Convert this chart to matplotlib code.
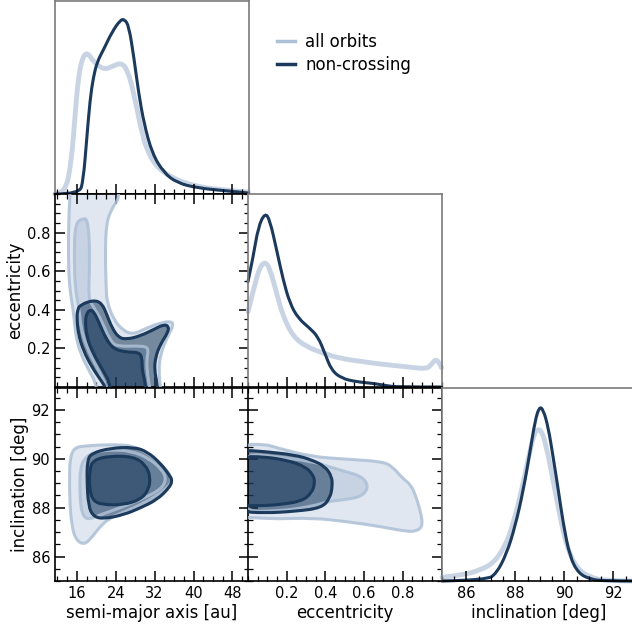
import matplotlib
matplotlib.use("Agg")
import matplotlib.pyplot as plt
from matplotlib.ticker import FixedLocator, MultipleLocator
from matplotlib.lines import Line2D
from matplotlib.path import Path
from matplotlib.patches import PathPatch

# colours
LIGHT_LINE = '#adc0d6'
LIGHT_CURVE = '#c8d4e4'
LIGHT_OUTER_FILL = '#e0e7f0'
LIGHT_INNER_FILL = '#c7d3e3'
DARK = '#1b3a5c'

# axis ranges and ticks
a_lim = (11.5, 51.3)
e_lim = (0.0, 1.0)
i_lim = (85.0, 92.9)
a_ticks = [16, 24, 32, 40, 48]
e_ticks = [0.2, 0.4, 0.6, 0.8]
i_ticks = [86, 88, 90, 92]

# 1D marginal densities (normalised heights)
a_grid_all = [11.5, 13.6, 14.9, 15.6, 16.3, 17.2, 18.2, 19.4, 21.5, 23.2, 25.1, 26.4, 27.7,
              29.1, 30.4, 32.5, 35.9, 40.1, 45.6, 51.3]
a_dens_all = [0.0, 0.0, 0.173, 0.398, 0.607, 0.712, 0.733, 0.686, 0.644, 0.66, 0.681, 0.644,
              0.524, 0.346, 0.225, 0.136, 0.079, 0.042, 0.021, 0.01]
a_grid_nc = [11.5, 16.5, 17.3, 18.0, 18.7, 19.4, 20.2, 21.5, 23.2, 24.9, 25.8, 26.7, 27.7, 28.7,
             29.8, 31.5, 33.9, 36.6, 40.8, 47.0, 51.3]
a_dens_nc = [0.0, 0.0, 0.068, 0.277, 0.487, 0.607, 0.686, 0.749, 0.838, 0.901, 0.906, 0.869,
             0.712, 0.524, 0.366, 0.209, 0.11, 0.058, 0.031, 0.016, 0.005]

e_grid_all = [0.0, 0.036, 0.062, 0.088, 0.113, 0.148, 0.182, 0.234, 0.302, 0.388, 0.474, 0.56,
              0.68, 0.818, 0.921, 0.946, 0.969, 0.99, 1.0]
e_dens_all = [0.39, 0.537, 0.623, 0.649, 0.615, 0.485, 0.364, 0.26, 0.209, 0.175, 0.149, 0.136,
              0.119, 0.105, 0.093, 0.114, 0.145, 0.123, 0.10]
e_grid_nc = [0.0, 0.027, 0.053, 0.088, 0.113, 0.148, 0.182, 0.216, 0.259, 0.32, 0.362, 0.397,
             0.431, 0.483, 0.56, 0.646, 0.715, 0.77, 1.0]
e_dens_nc = [0.546, 0.675, 0.83, 0.903, 0.865, 0.71, 0.554, 0.435, 0.356, 0.304, 0.26, 0.175,
             0.088, 0.045, 0.027, 0.019, 0.007, 0.0, 0.0]

i_grid_all = [85.0, 85.87, 86.55, 87.09, 87.57, 87.91, 88.25, 88.56, 88.76, 88.89, 89.07, 89.27,
              89.54, 89.82, 90.09, 90.5, 91.04, 91.72, 92.9]
i_dens_all = [0.019, 0.031, 0.057, 0.091, 0.177, 0.297, 0.47, 0.658, 0.761, 0.787, 0.778, 0.692,
              0.52, 0.331, 0.177, 0.065, 0.019, 0.0, 0.0]
i_grid_nc = [85.0, 86.82, 87.23, 87.64, 87.98, 88.32, 88.6, 88.8, 88.97, 89.13, 89.34, 89.54,
             89.75, 89.95, 90.22, 90.57, 91.04, 91.6, 92.9]
i_dens_nc = [0.0, 0.005, 0.04, 0.143, 0.28, 0.47, 0.675, 0.83, 0.902, 0.89, 0.795, 0.64, 0.47,
             0.297, 0.125, 0.04, 0.01, 0.0, 0.0]

# 2D credible contours (outer and inner levels), semi-major axis vs eccentricity
ae_all_outer_a = [14.6, 14.6, 14.4, 14.25, 14.3, 14.6, 15.1, 15.5, 15.8, 16.8, 18.4, 19.9, 20.3,
                  33.3, 33.19, 32.84, 33.19, 34.58, 35.94, 35.26, 33.19, 30.45, 27.68, 25.61,
                  23.55, 22.18, 22.04, 21.83, 22.04, 23.21, 24.4, 24.58, 24.6]
ae_all_outer_e = [1.05, 0.99, 0.92, 0.76, 0.60, 0.50, 0.42, 0.34, 0.26, 0.17, 0.09, 0.02, -0.05,
                  -0.05, 0.0, 0.087, 0.171, 0.256, 0.324, 0.341, 0.332, 0.307, 0.273, 0.29,
                  0.349, 0.443, 0.51, 0.679, 0.849, 0.925, 0.968, 0.993, 1.05]
ae_all_inner_a = [17.35, 18.17, 18.59, 18.59, 18.38, 19.5, 20.8, 22.86, 24.25, 29.74, 30.78, 30.3,
                  30.57, 30.98, 31.1, 22.4, 22.18, 21.48, 19.76, 18.05, 16.81, 16.5, 15.63,
                  15.43, 15.63]
ae_all_inner_e = [0.875, 0.866, 0.764, 0.595, 0.459, 0.41, 0.358, 0.239, 0.209, 0.214, 0.196,
                  0.137, 0.053, 0.0, -0.05, -0.05, 0.0, 0.036, 0.12, 0.205, 0.307, 0.40, 0.51,
                  0.679, 0.849]
ae_nc_outer_a = [16.67, 19.41, 21.15, 22.18, 23.21, 24.58, 26.31, 29.06, 31.81, 33.88, 34.91,
                 34.7, 33.19, 32.16, 31.95, 32.51, 32.6, 22.0, 21.83, 21.15, 19.08, 17.35, 16.31,
                 15.98, 16.15]
ae_nc_outer_e = [0.425, 0.451, 0.434, 0.374, 0.307, 0.256, 0.247, 0.265, 0.298, 0.324, 0.315,
                 0.281, 0.222, 0.154, 0.087, 0.019, -0.05, -0.05, 0.0, 0.027, 0.103, 0.188,
                 0.273, 0.358, 0.40]
ae_nc_inner_a = [18.73, 19.41, 20.45, 21.83, 23.55, 26.31, 28.71, 29.41, 29.41, 30.1, 30.2, 23.0,
                 22.86, 21.15, 19.41, 18.05, 17.7, 18.05]
ae_nc_inner_e = [0.40, 0.392, 0.341, 0.256, 0.196, 0.18, 0.18, 0.154, 0.087, 0.019, -0.05, -0.05,
                 0.019, 0.095, 0.171, 0.256, 0.341, 0.383]

# semi-major axis vs inclination
ai_all_outer_a = [14.6, 15.0, 16.0, 17.35, 20.8, 24.25, 27.68, 31.13, 34.2, 35.7, 34.8, 32.1,
                  29.06, 25.9, 22.86, 20.8, 18.73, 17.35, 15.8, 14.95, 14.5, 14.5]
ai_all_outer_i = [89.9, 90.3, 90.48, 90.52, 90.57, 90.58, 90.53, 90.16, 89.63, 89.14, 88.86,
                  88.45, 88.12, 87.84, 87.59, 87.24, 86.69, 86.49, 86.69, 87.24, 88.33, 89.55]
ai_all_inner_a = [16.67, 17.5, 19.76, 22.86, 27.0, 30.7, 33.6, 34.4, 33.2, 29.06, 25.0, 20.8,
                  18.3, 17.1, 16.67, 16.6]
ai_all_inner_i = [89.55, 90.04, 90.29, 90.37, 90.33, 90.04, 89.55, 89.14, 88.73, 88.33, 88.0,
                  87.71, 87.5, 87.71, 88.33, 88.94]
ai_nc_outer_a = [19.08, 22.86, 27.68, 30.45, 33.19, 35.26, 35.61, 34.91, 32.51, 29.06, 25.61,
                 21.48, 19.41, 18.38, 18.05, 18.17]
ai_nc_outer_i = [90.23, 90.44, 90.48, 90.30, 89.82, 89.28, 89.07, 88.80, 88.33, 87.99, 87.71,
                 87.54, 87.64, 88.05, 89.14, 89.96]
ai_nc_inner_a = [19.41, 22.86, 27.68, 30.10, 31.13, 30.78, 29.06, 25.61, 21.48, 19.41, 18.59,
                 18.59]
ai_nc_inner_i = [89.96, 90.12, 90.09, 89.76, 89.28, 88.73, 88.33, 88.12, 88.12, 88.26, 88.73,
                 89.55]

# eccentricity vs inclination
ei_all_outer_e = [-0.05, 0.085, 0.155, 0.329, 0.503, 0.694, 0.746, 0.798, 0.842, 0.868, 0.894,
                  0.903, 0.868, 0.816, 0.676, 0.503, 0.329, 0.155, 0.05, -0.05]
ei_all_outer_i = [90.57, 90.61, 90.44, 90.09, 89.99, 89.89, 89.69, 89.21, 88.94, 88.46, 87.78,
                  87.24, 87.03, 87.03, 87.24, 87.44, 87.58, 87.54, 87.58, 87.62]
ei_all_inner_e = [-0.05, 0.155, 0.329, 0.416, 0.503, 0.59, 0.624, 0.59, 0.503, 0.416, 0.329,
                  0.155, -0.05]
ei_all_inner_i = [90.23, 90.09, 89.89, 89.69, 89.48, 89.28, 88.87, 88.46, 88.33, 88.26, 88.05,
                  87.85, 87.85]
ei_nc_outer_e = [-0.05, 0.085, 0.242, 0.329, 0.398, 0.433, 0.436, 0.424, 0.381, 0.242, 0.085,
                 -0.05]
ei_nc_outer_i = [90.37, 90.30, 90.16, 89.96, 89.69, 89.28, 88.87, 88.40, 87.99, 87.85, 87.78,
                 87.85]
ei_nc_inner_e = [-0.05, 0.085, 0.207, 0.294, 0.337, 0.346, 0.329, 0.277, 0.155, 0.068, -0.05]
ei_nc_inner_i = [90.09, 90.09, 89.93, 89.69, 89.35, 89.01, 88.60, 88.26, 88.12, 88.08, 88.08]


def smoothPath(xs, ys, closed=False):
    """Quadratic Bezier path that uses the read points as control points."""
    pts = list(zip(xs, ys))
    mid = lambda p, q: ((p[0] + q[0]) / 2, (p[1] + q[1]) / 2)
    if closed:
        n = len(pts)
        verts = [mid(pts[-1], pts[0])]
        codes = [Path.MOVETO]
        for k in range(n):
            verts += [pts[k], mid(pts[k], pts[(k + 1) % n])]
            codes += [Path.CURVE3, Path.CURVE3]
        verts.append(verts[0])
        codes.append(Path.CLOSEPOLY)
    else:
        verts = [pts[0]]
        codes = [Path.MOVETO]
        for k in range(1, len(pts) - 1):
            end = mid(pts[k], pts[k + 1]) if k < len(pts) - 2 else pts[-1]
            verts += [pts[k], end]
            codes += [Path.CURVE3, Path.CURVE3]
    return Path(verts, codes)


def drawContours(ax, all_outer, all_inner, nc_outer, nc_inner):
    """Draw the two credible levels for both samples."""
    fills = [(all_outer, dict(fc=LIGHT_OUTER_FILL, ec='none', zorder=1)),
             (all_inner, dict(fc=LIGHT_INNER_FILL, ec='none', zorder=1.1)),
             (nc_outer, dict(fc=DARK, alpha=0.55, ec='none', zorder=2)),
             (nc_inner, dict(fc=DARK, alpha=0.55, ec='none', zorder=2.1)),
             (all_outer, dict(fc='none', ec=LIGHT_LINE, lw=2.2, alpha=0.85, zorder=3)),
             (all_inner, dict(fc='none', ec=LIGHT_LINE, lw=2.2, alpha=0.85, zorder=3)),
             (nc_outer, dict(fc='none', ec=DARK, lw=2.2, zorder=4)),
             (nc_inner, dict(fc='none', ec=DARK, lw=2.2, zorder=4))]
    for (xs, ys), kw in fills:
        ax.add_patch(PathPatch(smoothPath(xs, ys, closed=True), joinstyle='round', **kw))


def styleAxis(ax, diag=False):
    ax.tick_params(which='both', direction='in', top=not diag, right=not diag, left=not diag,
                   bottom=True, labelsize=10.5)
    ax.tick_params(which='major', length=7, width=1.1)
    ax.tick_params(which='minor', length=3.5, width=0.9)
    for s in ax.spines.values():
        s.set_linewidth(1.2)
    if diag:
        for name in ('top', 'right', 'left'):
            ax.spines[name].set_color('#7a7a7a')
        ax.set_yticks([])


fig = plt.figure(figsize=(6.32, 6.24), dpi=100)
W, H = 193.5 / 632, 193 / 624
lefts = [55 / 632, 248 / 632, 442 / 632]
bottoms = [(624 - 194) / 624, (624 - 387) / 624, (624 - 581) / 624]

axes = {}
for r in range(3):
    for c in range(r + 1):
        axes[(r, c)] = fig.add_axes([lefts[c], bottoms[r], W, H])

lims = [a_lim, e_lim, i_lim]
ticks = [a_ticks, e_ticks, i_ticks]
minors = [2, 0.05, 0.5]
labels = ['semi-major axis [au]', 'eccentricity', 'inclination [deg]']

for (r, c), ax in axes.items():
    diag = r == c
    ax.set_xlim(lims[c])
    ax.xaxis.set_major_locator(FixedLocator(ticks[c]))
    ax.xaxis.set_minor_locator(MultipleLocator(minors[c]))
    if diag:
        ax.set_ylim(0, 1)
    else:
        ax.set_ylim(lims[r])
        ax.yaxis.set_major_locator(FixedLocator(ticks[r]))
        ax.yaxis.set_minor_locator(MultipleLocator(minors[r]))
    styleAxis(ax, diag)
    if r < 2:
        ax.tick_params(labelbottom=False)
    else:
        ax.set_xlabel(labels[c], fontsize=12, labelpad=2)
    if c > 0 or diag:
        ax.tick_params(labelleft=False)
    elif not diag:
        ax.set_ylabel(labels[r], fontsize=12, labelpad=2)

# marginals
diag_data = [
    (a_grid_all, a_dens_all, a_grid_nc, a_dens_nc),
    (e_grid_all, e_dens_all, e_grid_nc, e_dens_nc),
    (i_grid_all, i_dens_all, i_grid_nc, i_dens_nc),
]
for k, (xa, ya, xn, yn) in enumerate(diag_data):
    ax = axes[(k, k)]
    ax.add_patch(PathPatch(smoothPath(xa, ya), fc='none', ec=LIGHT_CURVE, lw=3.5,
                           capstyle='round', clip_on=False))
    ax.add_patch(PathPatch(smoothPath(xn, yn), fc='none', ec=DARK, lw=2.2,
                           capstyle='round', clip_on=False))

drawContours(axes[(1, 0)], (ae_all_outer_a, ae_all_outer_e), (ae_all_inner_a, ae_all_inner_e),
             (ae_nc_outer_a, ae_nc_outer_e), (ae_nc_inner_a, ae_nc_inner_e))
drawContours(axes[(2, 0)], (ai_all_outer_a, ai_all_outer_i), (ai_all_inner_a, ai_all_inner_i),
             (ai_nc_outer_a, ai_nc_outer_i), (ai_nc_inner_a, ai_nc_inner_i))
drawContours(axes[(2, 1)], (ei_all_outer_e, ei_all_outer_i), (ei_all_inner_e, ei_all_inner_i),
             (ei_nc_outer_e, ei_nc_outer_i), (ei_nc_inner_e, ei_nc_inner_i))

handles = [Line2D([], [], color=LIGHT_LINE, lw=2.5), Line2D([], [], color=DARK, lw=2.5)]
fig.legend(handles, ['all orbits', 'non-crossing'], loc='upper left',
           bbox_to_anchor=(277 / 632, 1 - 33 / 624), frameon=False, fontsize=12,
           handlelength=1.1, handletextpad=0.6, labelspacing=0.3, borderpad=0,
           borderaxespad=0)

fig.savefig('out.png', dpi=100)
